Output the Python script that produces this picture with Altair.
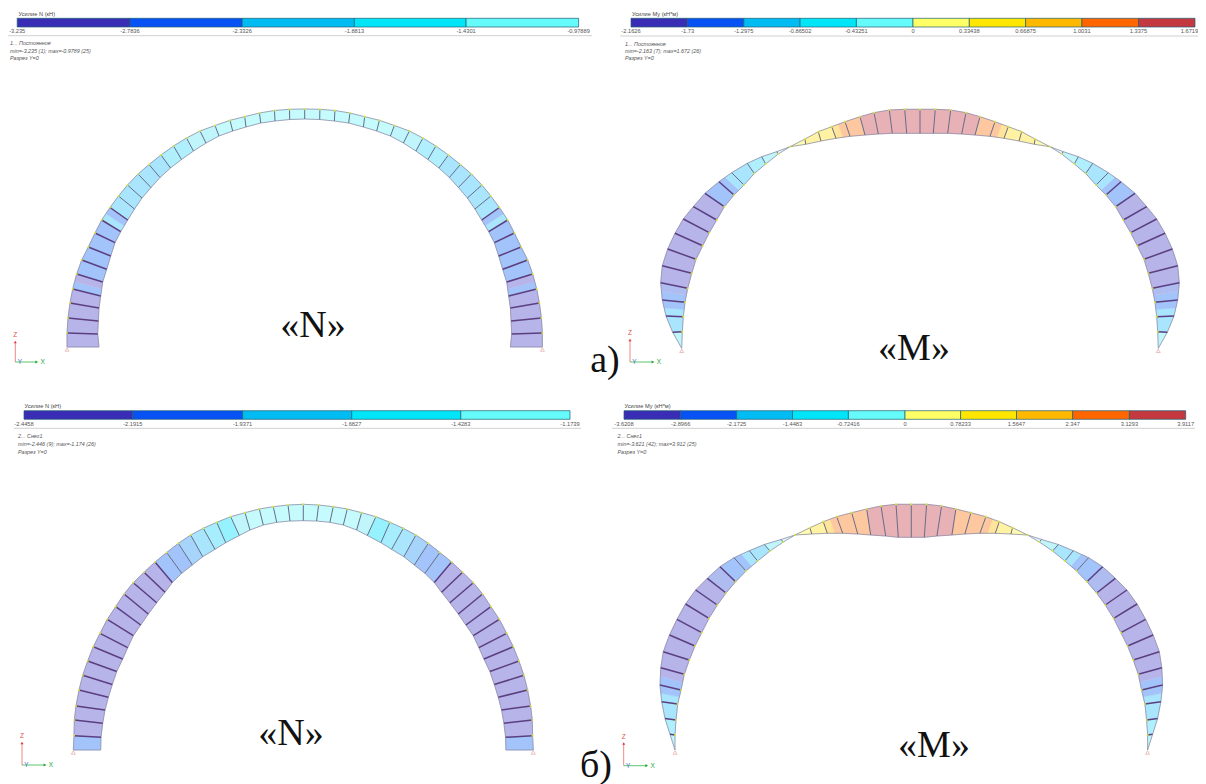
import altair as alt
import pandas as pd

# ---------- colour bars ----------
COLD = ["#3A2DB5", "#0652F5", "#00BCF2", "#00E6F8", "#66FBFB"]
WARM = ["#FFFF66", "#FFE600", "#FFB800", "#FF6600", "#C4383F"]

bars = [
    dict(edges=[17.2, 130, 242.2, 354.4, 466.1, 578.6], top=18.3, bot=27, colors=COLD,
         labels=["-3.235", "-2.7836", "-2.3326", "-1.8813", "-1.4301", "-0.97889"],
         title="Усилие N (кН)", tx=18.5, ty=13.7, lab_y=31, line_y=35.7, lx0=8, lx1=592,
         rows=["1... Постоянное", "min=-3.235 (1); max=-0.9789 (25)", "Разрез Y=0"], rx=10, ry=[43.3, 50.7, 58.3]),
    dict(edges=[631, 687.7, 743.8, 800.1, 856.4, 913, 969.3, 1025.6, 1081.9, 1138.5, 1195], top=18.3, bot=27, colors=COLD + WARM,
         labels=["-2.1626", "-1.73", "-1.2975", "-0.86502", "-0.43251", "0", "0.33438", "0.66875", "1.0031", "1.3375", "1.6719"],
         title="Усилие My (кН*м)", tx=632, ty=13.7, lab_y=31, line_y=36, lx0=620, lx1=1198,
         rows=["1... Постоянное", "min=-2.163 (7); max=1.672 (26)", "Разрез Y=0"], rx=625, ry=[43.5, 51, 58.3]),
    dict(edges=[24, 132.8, 242.6, 351.7, 460.8, 570], top=410.7, bot=419.3, colors=COLD,
         labels=["-2.4458", "-2.1915", "-1.9371", "-1.6827", "-1.4283", "-1.1739"],
         title="Усилие N (кН)", tx=24.5, ty=406, lab_y=424.3, line_y=428.3, lx0=14, lx1=581,
         rows=["2... Снег1", "min=-2.446 (9); max=-1.174 (26)", "Разрез Y=0"], rx=18, ry=[435.7, 444.3, 452.3]),
    dict(edges=[624, 680.7, 736.6, 792.5, 848.4, 905, 960.6, 1016.5, 1072.7, 1129.4, 1185.7], top=410.7, bot=419.3, colors=COLD + WARM,
         labels=["-3.6208", "-2.8966", "-2.1725", "-1.4483", "-0.72416", "0", "0.78233", "1.5647", "2.347", "3.1293", "3.9117"],
         title="Усилие My (кН*м)", tx=624.5, ty=406.3, lab_y=424.3, line_y=428.3, lx0=612, lx1=1195,
         rows=["2... Снег1", "min=-3.621 (42); max=3.912 (25)", "Разрез Y=0"], rx=617.5, ry=[435.7, 443.7, 451.7]),
]

# ---------- arch nodes, springing (k=0) to crown (k=25), left half ----------
PU = "#B7B4EA"; PB = "#AFBCEF"; BL = "#A3C4FA"; MB = "#A6D4FB"; LB = "#A9E5FC"; CY = "#B0EFFD"; PC = "#C0F6FB"; VP = "#C6FBFE"; WH = "#E2F8FB"
Y1 = "#FFFBB0"; Y2 = "#FFF2A2"; Y3 = "#FFE49A"; OR = "#FDC7A0"; PK = "#E8B1B6"

a1_ox = [67, 67, 68, 70, 72.7, 76.7, 81.7, 88.3, 95, 101.7, 110, 118.5, 127.5, 138, 149, 161, 173.5, 186.5, 200, 215, 230, 244.7, 259.5, 274.5, 289.5, 304.7]
a1_oy = [347, 333, 318, 303, 289, 274, 260, 247, 233, 220, 207.5, 196, 185, 174, 164.5, 155, 146, 138, 131, 125.5, 120.3, 116.7, 113, 110.5, 109.3, 109]
a1_ix = [99, 97.7, 98.3, 99, 100.7, 102.7, 106.7, 110.7, 115, 120.7, 127.7, 134.5, 142, 151, 160, 170.5, 181.5, 193.5, 206, 219, 232.7, 246, 260.7, 275, 289.7, 304.7]
a1_iy = [347, 334, 321, 308, 296, 282, 269.3, 256, 242.7, 231.7, 220, 209, 198, 187.5, 177.5, 168, 159.5, 151, 143, 136, 131, 127, 123, 121, 119.5, 119]
a1_col = [PU, PU, PU, PU, (BL, PU), BL, BL, BL, BL, (LB, BL), LB, LB, LB, LB, LB, CY, CY, PC, PC, VP, VP, VP, VP, VP, VP]
a1_dark = 10

a2_ox = [681.7, 682.3, 683.3, 685, 687.7, 691.7, 696, 702.7, 709.3, 716.7, 724.3, 734, 744, 754.3, 765.7, 778.3, 790, 805, 818.3, 831.7, 845, 860, 874, 889.3, 904.7, 920]
a2_oy = [348.3, 331.7, 316.7, 302.3, 288.3, 273.3, 259.3, 245.7, 232.7, 220, 206.7, 195, 185, 173.5, 164, 154, 146.7, 139, 131.7, 126.7, 121.7, 116.7, 112.7, 110, 109.3, 109.3]
a2_ix = [681.7, 672.7, 666, 662.3, 660.7, 662.3, 667.7, 675, 683.3, 693.3, 705, 719, 731.7, 747.3, 761.7, 776.7, 790, 805.7, 821, 836, 850, 865, 878.3, 892.3, 906.7, 920]
a2_iy = [348.3, 332.3, 316, 300, 282.7, 265.7, 249, 233.3, 219, 206.7, 193.3, 181.7, 172.7, 163.3, 156.7, 151.7, 146.7, 144.3, 141, 138.3, 136.3, 135, 134, 133.3, 133.3, 133.3]
a2_col = [PC, LB, (LB, BL), (BL, PB), PU, PU, PU, PU, PU, PU, BL, (BL, LB), LB, CY, PC, WH, Y1, Y2, Y2, (Y3, OR), OR, PK, PK, PK, PK]
a2_dark = 11

a3_ox = [73.3, 74, 74.3, 76, 79, 82.7, 87.7, 93.3, 100, 107.3, 115.7, 124, 133.3, 144, 155, 166.7, 178.3, 190.7, 203.3, 216.7, 230.7, 245, 259.3, 273.3, 288, 303.3]
a3_oy = [750, 735.7, 720, 706, 690, 675.3, 661, 646.7, 633.3, 619.3, 606.7, 594, 582.7, 572.3, 562, 552.5, 543.3, 535, 528.3, 522.3, 516.7, 512.7, 509, 506.7, 505, 504.3]
a3_ix = [100.7, 101, 102.7, 105, 108.3, 112.3, 116.7, 122.7, 127.7, 133.3, 140.7, 148.3, 156.7, 165, 172.3, 181.7, 192.3, 202.7, 215, 225.7, 239.3, 250, 263.3, 276.7, 290, 303.3]
a3_iy = [750, 737.3, 723.3, 710, 697.3, 684.5, 671.5, 659, 647.7, 635.7, 625, 614, 602.7, 592.3, 582.5, 573.3, 565, 556.7, 549.3, 542.7, 535.5, 530, 525, 522.3, 521, 520.7]
a3_col = [BL, PU, PU, PU, PU, PU, PU, PU, PU, PU, PU, PU, PU, PU, BL, BL, MB, LB, "#A6EEFD", "#95F2FE", PC, VP, VP, VP, VP]
a3_dark = 14

a4_ox = [675, 675, 676, 677.7, 681, 684.3, 689.3, 695, 701.7, 709, 717.3, 726, 735.7, 746, 757.7, 770, 783.3, 795, 810, 823.3, 836.7, 851.7, 866.7, 881, 896, 911.3]
a4_oy = [750, 735, 720, 704, 690, 674.3, 660, 646, 632.7, 618.3, 605, 593, 581.7, 571, 561, 551, 542, 535, 527.7, 521.7, 516.7, 512.7, 509, 506, 504.3, 504.3]
a4_ix = [675, 670, 665, 661.7, 660, 660.8, 663.3, 669.5, 677, 685.5, 695.7, 707.3, 720, 734, 749.3, 764.3, 781, 795, 811.7, 827.3, 842.7, 857.7, 870.7, 885.7, 898.3, 911.3]
a4_iy = [750, 734.3, 718.5, 701.7, 685, 667.7, 651.7, 635, 619.3, 604, 590, 578.3, 566.7, 557.7, 550.7, 544.5, 539.5, 535, 534, 533.3, 533.3, 534, 535, 536, 537.3, 537.3]
a4_col = [PC, CY, LB, (LB, BL), (BL, PU), PU, PU, PU, PU, PU, PU, PB, BL, (BL, LB), LB, PC, WH, Y1, Y2, (Y3, OR), OR, OR, PK, PK, PK]
a4_dark = 12

arches = [
    (a1_ox, a1_oy, a1_ix, a1_iy, a1_col, a1_dark),
    (a2_ox, a2_oy, a2_ix, a2_iy, a2_col, a2_dark),
    (a3_ox, a3_oy, a3_ix, a3_iy, a3_col, a3_dark),
    (a4_ox, a4_oy, a4_ix, a4_iy, a4_col, a4_dark),
]

# ---------- annotations ----------
big_text = ["«N»", "«M»", "а)", "«N»", "«M»", "б)"]
big_x = [313, 914, 605, 291, 934, 596]
big_y = [326, 349, 361, 734, 746, 766]

triad_x = [15.3, 630, 22, 623.7]
triad_top = [342, 340, 743, 743.5]
triad_y = [362, 362, 765, 765.7]
triad_len = [21.4, 23, 23, 23]

# ---------- build tables ----------
poly, edges, div, dots, sup = [], [], [], [], []
pid = 0
eid = 0
for ox, oy, ix, iy, cols, dark in arches:
    cx = ox[-1]
    for side in (0, 1):
        mx = (lambda v: v) if side == 0 else (lambda v: 2 * cx - v)
        for k, c in enumerate(cols):
            a = (mx(ox[k]), oy[k]); b = (mx(ox[k + 1]), oy[k + 1])
            d = (mx(ix[k]), iy[k]); e = (mx(ix[k + 1]), iy[k + 1])
            if isinstance(c, tuple):
                m1 = ((a[0] + b[0]) / 2, (a[1] + b[1]) / 2)
                m2 = ((d[0] + e[0]) / 2, (d[1] + e[1]) / 2)
                parts = [([a, m1, m2, d, a], c[0]), ([m1, b, e, m2, m1], c[1])]
            else:
                parts = [([a, b, e, d, a], c)]
            for pts, col in parts:
                for o, (px, py) in enumerate(pts):
                    poly.append(dict(x=px, y=py, pid=pid, o=o, c=col))
                pid += 1
        for xs, ys in ((ox, oy), (ix, iy)):
            for o, (vx, vy) in enumerate(zip(xs, ys)):
                edges.append(dict(x=mx(vx), y=vy, eid=eid, o=o))
            eid += 1
        edges.append(dict(x=mx(ox[0]), y=oy[0], eid=eid, o=0))
        edges.append(dict(x=mx(ix[0]), y=iy[0], eid=eid, o=1))
        eid += 1
        for k in range(1, len(ox)):
            if side == 1 and k == len(ox) - 1:
                continue
            dc = "#5B3F80" if k <= dark else "#666C88"
            w = 1.5 if k <= dark else 1.0
            div.append(dict(x=mx(ox[k]), y=oy[k], x2=mx(ix[k]), y2=iy[k], c=dc, w=w))
            dots.append(dict(x=mx(ox[k]), y=oy[k]))
        sup.append(dict(x=mx(ox[0]), y=oy[0] + 2.5))

poly, edges, div, dots, sup = map(pd.DataFrame, (poly, edges, div, dots, sup))

rects, labs, titles, rows, lines = [], [], [], [], []
for b in bars:
    for i, c in enumerate(b["colors"]):
        rects.append(dict(x=b["edges"][i], x2=b["edges"][i + 1], y=b["top"], y2=b["bot"], c=c))
    for j, (e, t) in enumerate(zip(b["edges"], b["labels"])):
        lx = min(e, 1189.5)
        labs.append(dict(x=lx, y=b["lab_y"], t=t))
    titles.append(dict(x=b["tx"], y=b["ty"], t=b["title"]))
    for t, y in zip(b["rows"], b["ry"]):
        rows.append(dict(x=b["rx"], y=y, t=t))
    lines.append(dict(x=b["lx0"], x2=b["lx1"], y=b["line_y"]))
rects, labs, titles, rows, lines = map(pd.DataFrame, (rects, labs, titles, rows, lines))

tr_z = pd.DataFrame(dict(x=triad_x, y=triad_top, y2=triad_y))
tr_x = pd.DataFrame(dict(x=triad_x, x2=[a + b for a, b in zip(triad_x, triad_len)], y=triad_y))
tr_zt = pd.DataFrame(dict(x=triad_x, y=[v - 7 for v in triad_top], t=["Z"] * 4))
tr_xt = pd.DataFrame(dict(x=[a + b + 6 for a, b in zip(triad_x, triad_len)], y=triad_y, t=["X"] * 4))
tr_yt = pd.DataFrame(dict(x=[v + 4.5 for v in triad_x], y=triad_y, t=["Y"] * 4))
big = pd.DataFrame(dict(x=big_x, y=big_y, t=big_text))

W, H = 1190, 776
X = lambda f="x": alt.X(f"{f}:Q", scale=alt.Scale(domain=[8, 8 + W], nice=False, zero=False), axis=None)
Y = lambda f="y": alt.Y(f"{f}:Q", scale=alt.Scale(domain=[8 + H, 8], nice=False, zero=False), axis=None)
X2 = lambda f="x2": alt.X2(f"{f}:Q")
Y2 = lambda f="y2": alt.Y2(f"{f}:Q")
FONT = "Liberation Sans"

layers = [
    alt.Chart(poly).mark_line(strokeWidth=0.4).encode(
        X(), Y(), detail="pid:N", order="o:Q", fill=alt.Fill("c:N", scale=None), stroke=alt.Stroke("c:N", scale=None)),
    alt.Chart(edges).mark_line(stroke="#8E8EA6", strokeWidth=0.8).encode(X(), Y(), detail="eid:N", order="o:Q"),
    alt.Chart(div).mark_rule().encode(X(), Y(), X2(), Y2(),
        color=alt.Color("c:N", scale=None), strokeWidth=alt.StrokeWidth("w:Q", scale=None)),
    alt.Chart(dots).mark_point(filled=True, size=5, color="#DDEB3C", opacity=0.9).encode(X(), Y()),
    alt.Chart(sup).mark_point(shape="triangle-up", size=16, stroke="#D98080", strokeWidth=0.7, fill=None).encode(X(), Y()),
    alt.Chart(rects).mark_rect(stroke="#1F5F70", strokeWidth=0.7).encode(X(), Y(), X2(), Y2(), fill=alt.Fill("c:N", scale=None)),
    alt.Chart(lines).mark_rule(color="#D0D0D0", strokeWidth=1).encode(X(), Y(), X2()),
    alt.Chart(labs).mark_text(font=FONT, fontSize=5.7, color="#555555", align="center", baseline="middle").encode(X(), Y(), text="t:N"),
    alt.Chart(titles).mark_text(font=FONT, fontSize=5.7, color="#444444", align="left", baseline="middle").encode(X(), Y(), text="t:N"),
    alt.Chart(rows).mark_text(font=FONT, fontSize=5.4, fontStyle="italic", color="#555555", align="left", baseline="middle").encode(X(), Y(), text="t:N"),
    alt.Chart(tr_z).mark_rule(color="#E86A6A", strokeWidth=0.8).encode(X(), Y(), Y2()),
    alt.Chart(tr_z).mark_point(shape="triangle-up", size=10, filled=True, color="#E04040", opacity=1).encode(X(), Y()),
    alt.Chart(tr_x).mark_rule(color="#35B84A", strokeWidth=0.8).encode(X(), Y(), X2()),
    alt.Chart(tr_x).mark_point(shape="triangle-right", size=10, filled=True, color="#20A838", opacity=1).encode(X("x2"), Y()),
    alt.Chart(tr_zt).mark_text(font=FONT, fontSize=6.5, color="#E05050", baseline="middle").encode(X(), Y(), text="t:N"),
    alt.Chart(tr_xt).mark_text(font=FONT, fontSize=6.5, color="#20A838", baseline="middle").encode(X(), Y(), text="t:N"),
    alt.Chart(tr_yt).mark_text(font=FONT, fontSize=6.5, color="#3A6FD0", baseline="middle").encode(X(), Y(), text="t:N"),
    alt.Chart(big).mark_text(font="Liberation Serif", fontSize=38, color="#111111", baseline="middle").encode(X(), Y(), text="t:N"),
]

chart = alt.layer(*layers).properties(width=W, height=H, padding=0, autosize=alt.AutoSizeParams(type="none"), background="white").configure_view(stroke=None)
chart.save("out.html", embed_options={"renderer": "svg", "actions": False})
